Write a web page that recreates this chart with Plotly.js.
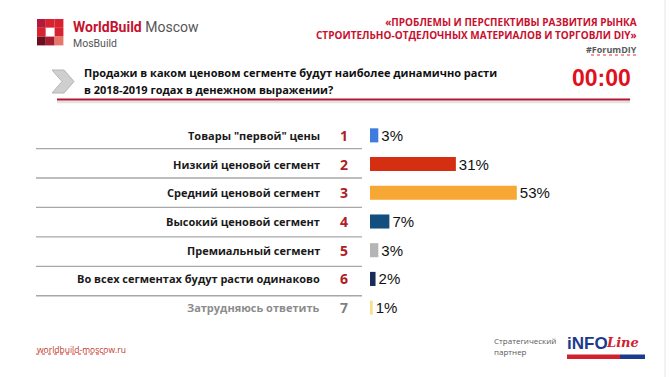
<!DOCTYPE html>
<html>
<head>
<meta charset="utf-8">
<script src="https://cdn.plot.ly/plotly-3.0.1.min.js"></script>
<style>html,body{margin:0;padding:0;background:#fff;}#chart{width:669px;height:377px;}</style>
</head>
<body>
<div id="chart"></div>
<script>
// ---- data ----
const categories = ['Товары "первой" цены', 'Низкий ценовой сегмент', 'Средний ценовой сегмент', 'Высокий ценовой сегмент', 'Премиальный сегмент', 'Во всех сегментах будут расти одинаково', 'Затрудняюсь ответить'];
const numbers = ['1', '2', '3', '4', '5', '6', '7'];
const values = [3, 31, 53, 7, 3, 2, 1];
const valueLabels = ['3%', '31%', '53%', '7%', '3%', '2%', '1%'];
const barColors = ['#3d7be0', '#d42f10', '#f6a734', '#134f7e', '#b5b5b5', '#1b2b57', '#f7df90'];
const headerLines = ['«ПРОБЛЕМЫ И ПЕРСПЕКТИВЫ РАЗВИТИЯ РЫНКА', 'СТРОИТЕЛЬНО-ОТДЕЛОЧНЫХ МАТЕРИАЛОВ И ТОРГОВЛИ DIY»'];
const hashtag = '#ForumDIY';
const questionLines = ['Продажи в каком ценовом сегменте будут наиболее динамично расти', 'в 2018-2019 годах в денежном выражении?'];
const timer = '00:00';

// ---- layout helpers (pixel -> paper) ----
const W = 669, H = 377, ML = 370, MR = 22, MT = 121, MB = 55;
const PW = W - ML - MR, PH = H - MT - MB;
const X = px => (px - ML) / PW;
const Y = py => (H - MB - py) / PH;

const shapes = [];
const annotations = [];

// separators between rows
for (let k = 0; k < categories.length - 1; k++) {
  const yy = k + 0.46 + 0.025 * k;
  shapes.push({type: 'line', xref: 'paper', yref: 'y', x0: X(36), x1: X(362), y0: yy, y1: yy,
    line: {color: '#a8a8a8', width: 1.3}});
}
// category labels and numbers
categories.forEach((c, i) => {
  const last = i === categories.length - 1;
  annotations.push({xref: 'paper', yref: 'y', x: X(322), y: i, xanchor: 'right', yanchor: 'middle', showarrow: false,
    text: '<b>' + c + '</b>', font: {family: 'Open Sans', size: 11, color: last ? '#8c8c8c' : '#1a1a1a'}});
  annotations.push({xref: 'paper', yref: 'y', x: X(344), y: i, xanchor: 'center', yanchor: 'middle', showarrow: false,
    text: '<b>' + numbers[i] + '</b>', font: {family: 'Open Sans', size: 14, color: last ? '#7f7f7f' : '#b01c24'}});
});

// logo grid
const logoColors = [['#b3193a', '#d8222f', '#d8222f'], ['#d8222f', '#ffffff', '#d8222f'], ['#6b0f1f', '#a61c2e', '#e8776a']];
const cs = 8.8;
logoColors.forEach((row, r) => row.forEach((col, c) => {
  shapes.push({type: 'rect', xref: 'paper', yref: 'paper', x0: X(37 + c * cs), x1: X(37 + (c + 1) * cs),
    y0: Y(19 + (r + 1) * cs), y1: Y(19 + r * cs), line: {width: 0}, fillcolor: col});
}));
annotations.push({xref: 'paper', yref: 'paper', x: X(71), y: Y(27), xanchor: 'left', yanchor: 'middle', showarrow: false,
  text: '<b><span style="color:#c4122f">WorldBuild</span></b> <span style="color:#555">Moscow</span>', font: {family: 'Roboto', size: 14}});
annotations.push({xref: 'paper', yref: 'paper', x: X(71), y: Y(43), xanchor: 'left', yanchor: 'middle', showarrow: false,
  text: 'MosBuild', font: {family: 'Roboto', size: 10.5, color: '#555'}});

// header title
annotations.push({xref: 'paper', yref: 'paper', x: X(639), y: Y(28.5), xanchor: 'right', yanchor: 'middle', align: 'right', showarrow: false,
  text: headerLines.map(t => '<b>' + t + '</b>').join('<br>'), font: {family: 'Open Sans', size: 10, color: '#c8102e'}});
annotations.push({xref: 'paper', yref: 'paper', x: X(639), y: Y(50), xanchor: 'right', yanchor: 'middle', showarrow: false,
  text: '<b>' + hashtag + '</b>', font: {family: 'Open Sans', size: 9, color: '#595959'}});
shapes.push({type: 'line', xref: 'paper', yref: 'paper', x0: X(591), x1: X(638), y0: Y(55), y1: Y(55), line: {color: '#e03030', width: 1, dash: 'dot'}});

// question block
shapes.push({type: 'path', xref: 'paper', yref: 'paper',
  path: 'M ' + X(52) + ' ' + Y(70) + ' L ' + X(64) + ' ' + Y(70) + ' L ' + X(74) + ' ' + Y(81.5) + ' L ' + X(64) + ' ' + Y(93) +
        ' L ' + X(52) + ' ' + Y(93) + ' L ' + X(62) + ' ' + Y(81.5) + ' Z',
  fillcolor: '#cfcfcf', line: {color: '#b5b5b5', width: 1}});
questionLines.forEach((t, i) => {
  annotations.push({xref: 'paper', yref: 'paper', x: X(82), y: Y(72 + i * 17), xanchor: 'left', yanchor: 'middle', showarrow: false,
    text: '<b>' + t + '</b>', font: {family: 'Open Sans', size: 11, color: '#111'}});
});
annotations.push({xref: 'paper', yref: 'paper', x: X(633), y: Y(78), xanchor: 'right', yanchor: 'middle', showarrow: false,
  text: '<b>' + timer + '</b>', font: {family: 'Liberation Sans, Arial, sans-serif', size: 23, color: '#e0101e'}});
shapes.push({type: 'line', xref: 'paper', yref: 'paper', x0: X(57), x1: X(630), y0: Y(102), y1: Y(102), line: {color: '#e2e2e2', width: 2.5}});
shapes.push({type: 'line', xref: 'paper', yref: 'paper', x0: X(57), x1: X(630), y0: Y(99.5), y1: Y(99.5), line: {color: '#b3172f', width: 2}});

// footer
annotations.push({xref: 'paper', yref: 'paper', x: X(35), y: Y(349), xanchor: 'left', yanchor: 'middle', showarrow: false,
  text: 'worldbuild-moscow.ru', font: {family: 'Open Sans', size: 8.5, color: '#c0392b'}});
shapes.push({type: 'line', xref: 'paper', yref: 'paper', x0: X(36), x1: X(108), y0: Y(354), y1: Y(354), line: {color: '#e03030', width: 1, dash: 'dot'}});
annotations.push({xref: 'paper', yref: 'paper', x: X(492), y: Y(340), xanchor: 'left', yanchor: 'middle', showarrow: false,
  text: 'Стратегический', font: {family: 'Open Sans', size: 8, color: '#595959'}});
annotations.push({xref: 'paper', yref: 'paper', x: X(492), y: Y(351), xanchor: 'left', yanchor: 'middle', showarrow: false,
  text: 'партнер', font: {family: 'Open Sans', size: 8, color: '#595959'}});
annotations.push({xref: 'paper', yref: 'paper', x: X(565), y: Y(343), xanchor: 'left', yanchor: 'middle', showarrow: false,
  text: '<b>iNFO</b>', font: {family: 'Liberation Sans, Arial, sans-serif', size: 17, color: '#1c3b8c'}});
annotations.push({xref: 'paper', yref: 'paper', x: X(604), y: Y(342), xanchor: 'left', yanchor: 'middle', showarrow: false,
  text: '<b><i>Line</i></b>', font: {family: 'DejaVu Serif', size: 13, color: '#d2202f'}});
shapes.push({type: 'rect', xref: 'paper', yref: 'paper', x0: X(567), x1: X(620), y0: Y(359), y1: Y(354.5), line: {width: 0}, fillcolor: '#d2202f'});
shapes.push({type: 'rect', xref: 'paper', yref: 'paper', x0: X(620), x1: X(645), y0: Y(359), y1: Y(354.5), line: {width: 0}, fillcolor: '#1c3b8c'});

// faint slide edge
shapes.push({type: 'line', xref: 'paper', yref: 'paper', x0: X(665), x1: X(665), y0: Y(0), y1: Y(377), line: {color: '#e6e6e6', width: 1}});

const trace = {
  type: 'bar', orientation: 'h',
  y: categories, x: values,
  marker: {color: barColors, line: {width: 0}},
  width: 0.49,
  text: valueLabels, textposition: 'outside', cliponaxis: false, constraintext: 'none',
  textfont: {family: 'Liberation Sans, Arial, sans-serif', size: 15, color: '#111'},
  hoverinfo: 'none'
};

const layout = {
  width: W, height: H,
  margin: {l: ML, r: MR, t: MT, b: MB, pad: 0},
  paper_bgcolor: '#fff', plot_bgcolor: '#fff',
  showlegend: false,
  xaxis: {range: [0, 100], visible: false, fixedrange: true},
  yaxis: {type: 'category', categoryorder: 'array', categoryarray: categories, range: [6.5, -0.5],
    showticklabels: false, showgrid: false, zeroline: false, showline: false, ticks: '', fixedrange: true},
  shapes: shapes,
  annotations: annotations
};

Plotly.newPlot('chart', [trace], layout, {displayModeBar: false, staticPlot: true});
</script>
</body>
</html>
